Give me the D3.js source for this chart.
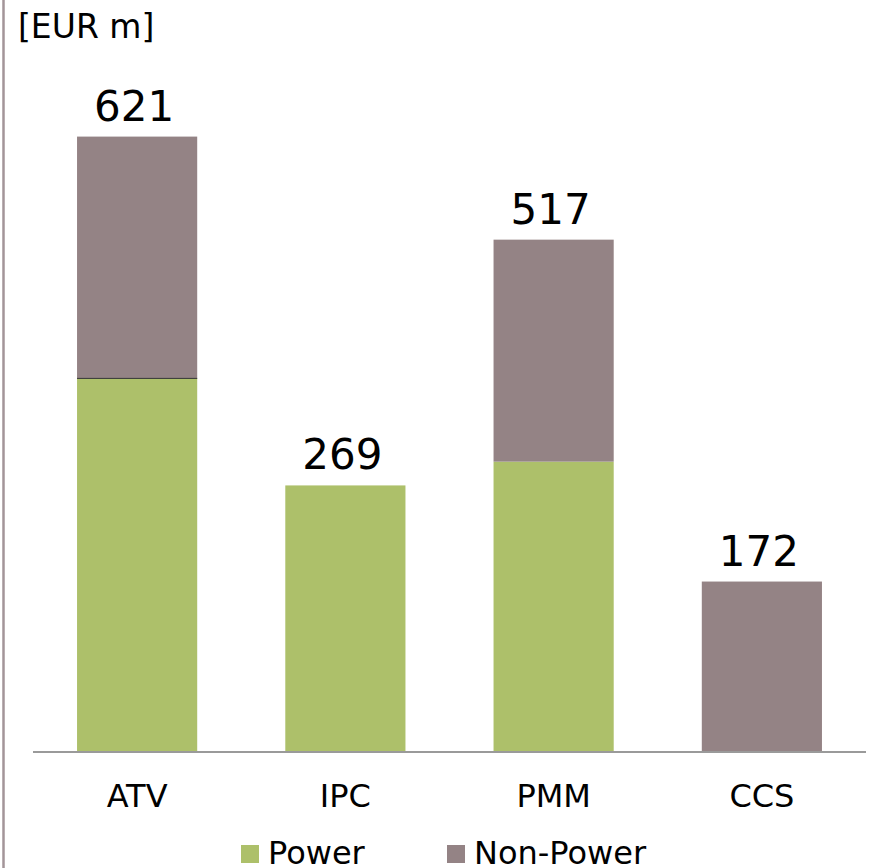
<!DOCTYPE html>
<html>
<head>
<meta charset="utf-8">
<script src="https://cdn.jsdelivr.net/npm/d3@7"></script>
<style>
  html, body { margin: 0; padding: 0; background: #fff; }
  svg { display: block; font-family: "DejaVu Sans", Verdana, sans-serif; }
</style>
</head>
<body>
<div id="chart"></div>
<script>
// values, EUR m
const categories = ['ATV', 'IPC', 'PMM', 'CCS'];
const power      = [377, 269, 293, 0];
const nonPower   = [244, 0, 224, 172];
const totals     = [621, 269, 517, 172];
const seriesNames = ['Power', 'Non-Power'];
const colors = { 'Power': '#adc06a', 'Non-Power': '#948385' };

const W = 892, H = 868;
const base = 752;

const svg = d3.select('#chart').append('svg')
  .attr('width', W).attr('height', H);

const x = d3.scaleBand().domain(categories).range([33, 866])
  .paddingInner(0.423).paddingOuter(0.2115);
const y = d3.scaleLinear().domain([0, 700]).range([base, base - 700 * 0.991]);

const rows = categories.map((c, i) => ({ cat: c, 'Power': power[i], 'Non-Power': nonPower[i], total: totals[i] }));
const stacked = d3.stack().keys(seriesNames)(rows);

// left frame line
svg.append('line').attr('x1', 3.5).attr('x2', 3.5).attr('y1', 0).attr('y2', H)
  .attr('stroke', '#a39599').attr('stroke-width', 2.5);

stacked.forEach(s => {
  svg.append('g').selectAll('rect').data(s.filter(d => d[1] > d[0])).join('rect')
    .attr('x', d => x(d.data.cat))
    .attr('width', x.bandwidth())
    .attr('y', d => y(d[1]))
    .attr('height', d => y(d[0]) - y(d[1]))
    .attr('fill', colors[s.key]);
});

// thin divider on ATV between segments
svg.append('line')
  .attr('x1', x('ATV')).attr('x2', x('ATV') + x.bandwidth())
  .attr('y1', y(power[0])).attr('y2', y(power[0]))
  .attr('stroke', '#333').attr('stroke-width', 1);

// baseline axis
const xAxis = svg.append('g').attr('transform', `translate(0,${base})`)
  .call(d3.axisBottom(x).tickSize(0).tickPadding(32));
xAxis.select('.domain').attr('stroke', '#9a9a9a').attr('stroke-width', 2)
  .attr('d', 'M33,0H866');
xAxis.selectAll('text').attr('font-size', 32).attr('fill', '#000')
  .attr('font-family', '"DejaVu Sans", Verdana, sans-serif')
  .attr('dy', '0.71em');

// totals
svg.append('g').selectAll('text').data(rows).join('text')
  .attr('x', d => x(d.cat) + x.bandwidth() / 2 - 3)
  .attr('y', d => y(d.total) - 16)
  .attr('text-anchor', 'middle').attr('font-size', 42).attr('fill', '#000')
  .text(d => d.total);

// unit
svg.append('text').attr('x', 18).attr('y', 38).attr('font-size', 33)
  .attr('fill', '#000').text('[EUR m]');

// legend
const legX = [241, 447];
seriesNames.forEach((n, i) => {
  svg.append('rect').attr('x', legX[i]).attr('y', 845).attr('width', 18).attr('height', 18)
    .attr('fill', colors[n]);
  svg.append('text').attr('x', legX[i] + 27).attr('y', 864).attr('font-size', 32)
    .attr('fill', '#000').text(n);
});
</script>
</body>
</html>
